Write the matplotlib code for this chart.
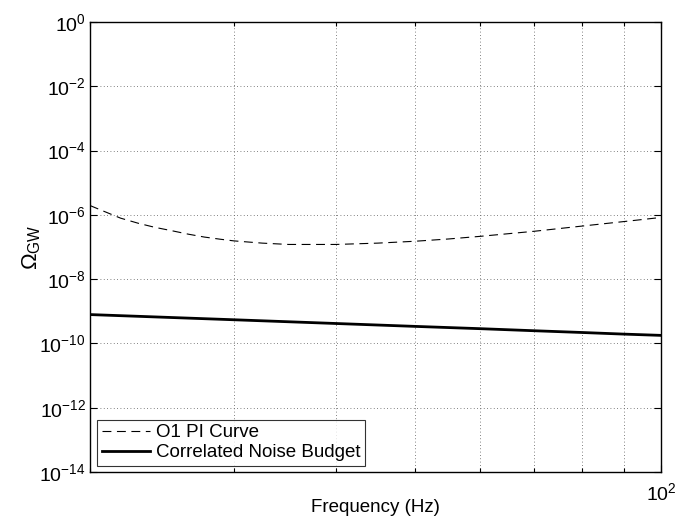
import matplotlib
matplotlib.use('Agg')
import matplotlib.pyplot as plt
from matplotlib.ticker import FixedLocator, NullFormatter, NullLocator, LogFormatterSciNotation

# ---- data ----
pi_freq = [20.0, 20.8, 21.8, 22.9, 24.0, 25.2, 26.4, 27.6, 28.9, 30.0, 32.5, 35.0,
           40.0, 45.0, 50.0, 55.0, 60.0, 70.0, 80.0, 90.0, 100.0]
pi_omega = [1.95e-6, 1.29e-6, 7.9e-7, 5.5e-7, 4.1e-7, 3.2e-7, 2.5e-7, 2.04e-7, 1.74e-7,
            1.55e-7, 1.32e-7, 1.20e-7, 1.20e-7, 1.32e-7, 1.51e-7, 1.78e-7, 2.14e-7,
            3.09e-7, 4.47e-7, 6.17e-7, 8.3e-7]

noise_freq = [20.0, 30.0, 40.0, 50.0, 60.0, 70.0, 80.0, 90.0, 100.0]
noise_omega = [7.9e-10, 5.45e-10, 4.17e-10, 3.39e-10, 2.88e-10, 2.48e-10, 2.19e-10,
               1.95e-10, 1.78e-10]

y_ticks = [1e-14, 1e-12, 1e-10, 1e-8, 1e-6, 1e-4, 1e-2, 1e0]
x_major = [100]
x_minor = [20, 30, 40, 50, 60, 70, 80, 90]

labels = ['O1 PI Curve', 'Correlated Noise Budget']
xlabel = 'Frequency (Hz)'
ylabel = r'$\Omega_{\mathrm{GW}}$'

# ---- style ----
plt.rcParams['font.family'] = ['Liberation Sans', 'DejaVu Sans']
plt.rcParams['mathtext.fontset'] = 'custom'
plt.rcParams['mathtext.rm'] = 'Liberation Sans'
plt.rcParams['mathtext.it'] = 'Liberation Sans:italic'
plt.rcParams['mathtext.bf'] = 'Liberation Sans:bold'

fig = plt.figure(figsize=(6.89, 5.23), dpi=100)
ax = fig.add_axes([90 / 689, 1 - 472 / 523, 571 / 689, 450 / 523])

ax.plot(pi_freq, pi_omega, color='k', lw=0.8, linestyle=(0, (8, 5)), label=labels[0])
ax.plot(noise_freq, noise_omega, color='k', lw=2.0, label=labels[1])
ax.set_xscale('log')
ax.set_yscale('log')
ax.set_xlim(20, 100)
ax.set_ylim(1e-14, 1)

ax.yaxis.set_major_locator(FixedLocator(y_ticks))
ax.yaxis.set_minor_locator(NullLocator())
ax.yaxis.set_major_formatter(LogFormatterSciNotation())
ax.xaxis.set_major_locator(FixedLocator(x_major))
ax.xaxis.set_major_formatter(LogFormatterSciNotation())
ax.xaxis.set_minor_locator(FixedLocator(x_minor))
ax.xaxis.set_minor_formatter(NullFormatter())

ax.tick_params(which='both', direction='in', top=True, right=True, labelsize=14,
               width=0.8)
ax.tick_params(which='major', length=5)
ax.tick_params(which='minor', length=3)
ax.tick_params(axis='x', which='major', pad=7)
ax.tick_params(axis='y', which='major', pad=3)

grid_kw = dict(color='0.35', lw=0.6, linestyle=(0, (1, 3)))
ax.grid(True, which='major', axis='y', **grid_kw)
ax.grid(True, which='both', axis='x', **grid_kw)

for s in ax.spines.values():
    s.set_linewidth(1.0)

ax.set_xlabel(xlabel, fontsize=13.5, va='center')
ax.xaxis.set_label_coords(0.5, (472 - 508) / 450)
ax.set_ylabel(ylabel, fontsize=16, va='center')
ax.yaxis.set_label_coords((32 - 90) / 571, 0.5)

leg = ax.legend(loc='lower left', bbox_to_anchor=(7 / 571, 6 / 450), borderaxespad=0,
                fontsize=13.5, frameon=True, fancybox=False, edgecolor='k',
                handlelength=2.6, handletextpad=0.3, borderpad=0.25, labelspacing=0.15)
leg.get_frame().set_linewidth(0.8)

fig.savefig('out.png', dpi=100)
